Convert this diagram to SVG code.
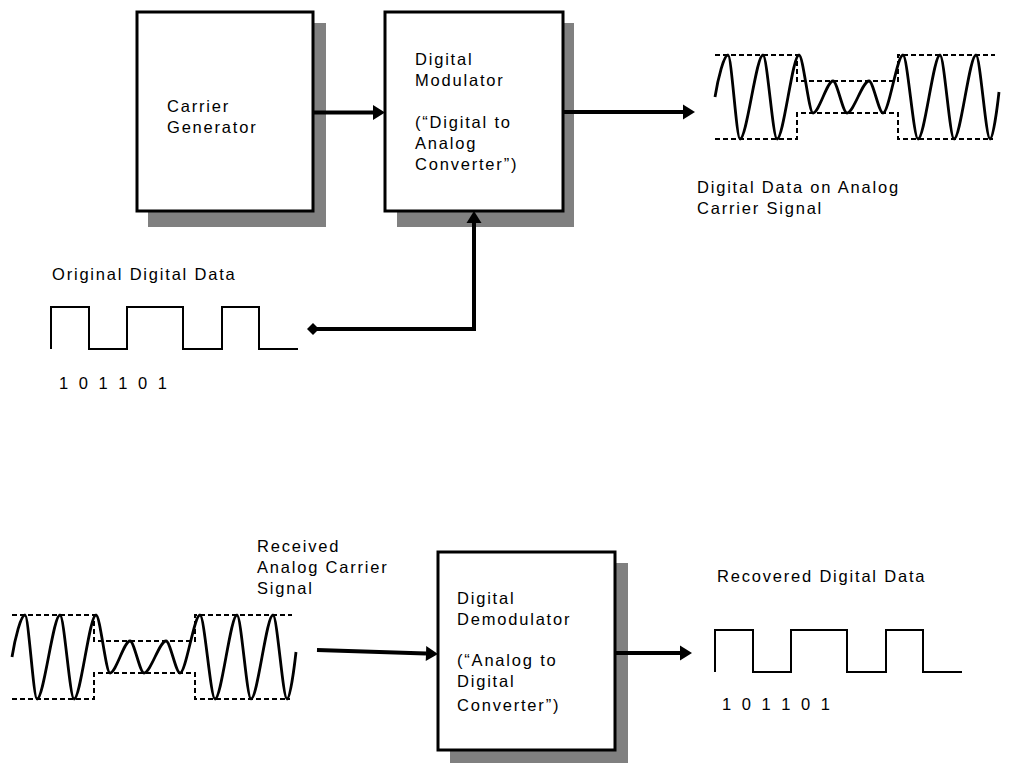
<svg xmlns="http://www.w3.org/2000/svg" xmlns:xlink="http://www.w3.org/1999/xlink" width="1009" height="763" viewBox="0 0 1009 763">
<style>
.bg{fill:#ffffff}
.shadow{fill:#808080;stroke:none}
.box{fill:#ffffff;stroke:#000000;stroke-width:3}
.t{font-family:"Liberation Sans",Arial,sans-serif;font-size:16.5px;letter-spacing:1.8px;fill:#000000}
.d{font-family:"Liberation Sans",Arial,sans-serif;font-size:16.5px;letter-spacing:3px;fill:#000000}
.conn{fill:none;stroke:#000000;stroke-width:4}
.sig{fill:none;stroke:#000000;stroke-width:2}
.sine{fill:none;stroke:#000000;stroke-width:2.8;stroke-linejoin:round}
.env{fill:none;stroke:#000000;stroke-width:2;stroke-dasharray:5 3}
</style>
<defs>
<marker id="arrow" markerUnits="userSpaceOnUse" markerWidth="12" markerHeight="15" refX="0" refY="7.5" orient="auto" overflow="visible">
<path d="M0,0 L12,7.5 L0,15 z" fill="#000000"/>
</marker>
<marker id="diamond" markerUnits="userSpaceOnUse" markerWidth="12" markerHeight="12" refX="6" refY="6" orient="auto" overflow="visible">
<path d="M0,6 L6,0 L12,6 L6,12 z" fill="#000000"/>
</marker>
<path id="square" class="sig" d="M51,349 V307 H89 V349 H127 V307 H183 V349 H222 V307 H259 V349 H298"/>
<g id="wave">
<path class="env" d="M715,55 H797 V81 H898 V55 H995"/>
<path class="env" d="M715,139 H797 V113 H898 V139 H993"/>
<path class="sine" d="M715,97 C718,78 724,55 728,55 C731.6,55 736.4,139 740,139 C746.9,139 756.1,55 763,55 C767.2,55 772.8,139 777,139 C783.6,139 792.4,55 799,55 C803.2,55 808.8,113 813,113 C819,113 827,81 833,81 C837.2,81 842.8,113 847,113 C853.6,113 862.4,81 869,81 C873.2,81 878.8,113 883,113 C889,113 897,55 903,55 C907.5,55 913.5,139 918,139 C924.6,139 933.4,55 940,55 C944.2,55 949.8,139 954,139 C960.6,139 969.4,55 976,55 C980.2,55 985.8,139 990,139 C993,139 997,110 999,92"/>
</g>
</defs>
<rect class="bg" x="0" y="0" width="1009" height="763"/>

<g id="carrier-generator">
<rect class="shadow" x="148" y="23" width="178" height="204"/>
<rect class="box" x="137" y="12" width="176" height="199"/>
<text class="t" x="167" y="112">Carrier</text>
<text class="t" x="167" y="133">Generator</text>
</g>

<g id="digital-modulator">
<rect class="shadow" x="397" y="23" width="177" height="204"/>
<rect class="box" x="385" y="12" width="178" height="199"/>
<text class="t" x="415" y="65">Digital</text>
<text class="t" x="415" y="86">Modulator</text>
<text class="t" x="415" y="128">(“Digital to</text>
<text class="t" x="415" y="149">Analog</text>
<text class="t" x="415" y="170">Converter”)</text>
</g>

<g id="modulated-signal">
<use href="#wave" xlink:href="#wave"/>
<text class="t" x="697" y="193">Digital Data on Analog</text>
<text class="t" x="697" y="214">Carrier Signal</text>
</g>

<g id="original-data">
<text class="t" x="52" y="280">Original Digital Data</text>
<use href="#square" xlink:href="#square"/>
<text class="d" x="59" y="389">1 0 1 1 0 1</text>
</g>

<g id="received-signal">
<use href="#wave" xlink:href="#wave" transform="translate(-703,560)"/>
<text class="t" x="257" y="552">Received</text>
<text class="t" x="257" y="573">Analog Carrier</text>
<text class="t" x="257" y="594">Signal</text>
</g>

<g id="digital-demodulator">
<rect class="shadow" x="450" y="563" width="178" height="200"/>
<rect class="box" x="438" y="552" width="177" height="198"/>
<text class="t" x="457" y="604">Digital</text>
<text class="t" x="457" y="625">Demodulator</text>
<text class="t" x="457" y="666">(“Analog to</text>
<text class="t" x="457" y="687">Digital</text>
<text class="t" x="457" y="711">Converter”)</text>
</g>

<g id="recovered-data">
<text class="t" x="717" y="582">Recovered Digital Data</text>
<use href="#square" xlink:href="#square" transform="translate(664,323)"/>
<text class="d" x="722" y="710">1 0 1 1 0 1</text>
</g>

<g id="connectors">
<path class="conn" d="M313,112.5 H373" marker-end="url(#arrow)"/>
<path class="conn" d="M563,112 H683" marker-end="url(#arrow)"/>
<path class="conn" d="M313,329 H474 V223" marker-start="url(#diamond)" marker-end="url(#arrow)"/>
<path class="conn" d="M317,650 L426,653.6" marker-end="url(#arrow)"/>
<path class="conn" d="M615,653 H680" marker-end="url(#arrow)"/>
</g>
</svg>
